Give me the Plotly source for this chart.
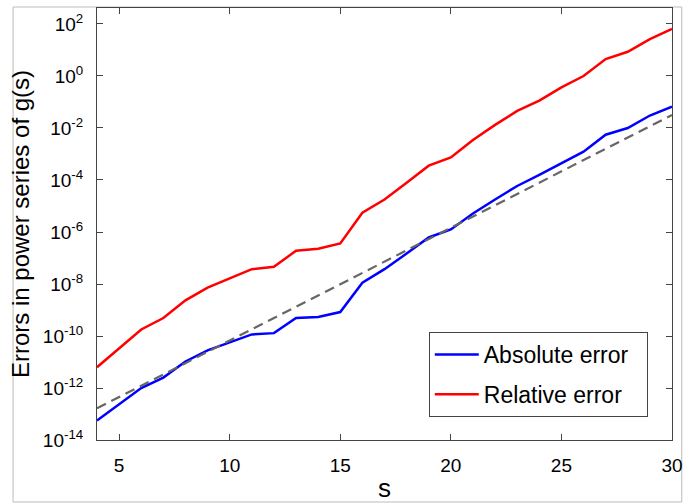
import plotly.graph_objects as go

s_vals = list(range(4, 31))
abs_err = [10**v for v in [-13.25, -12.64, -12.0, -11.6, -10.98, -10.55, -10.24, -9.94, -9.89,
                           -9.31, -9.27, -9.08, -7.95, -7.43, -6.83, -6.21, -5.9, -5.29, -4.75,
                           -4.23, -3.80, -3.34, -2.91, -2.26, -2.0, -1.52, -1.18]]
rel_err = [10**v for v in [-11.2, -10.47, -9.75, -9.31, -8.63, -8.14, -7.79, -7.43, -7.34,
                           -6.72, -6.64, -6.44, -5.26, -4.75, -4.11, -3.45, -3.13, -2.46, -1.88,
                           -1.34, -0.95, -0.44, 0.0, 0.65, 0.93, 1.42, 1.81]]
ref_s = [4, 30]
ref_vals = [10**-12.78, 10**-1.5]

ytick_vals = [1e-14, 1e-12, 1e-10, 1e-8, 1e-6, 1e-4, 1e-2, 1e0, 1e2]
ytick_text = ["10<sup>-14</sup>", "10<sup>-12</sup>", "10<sup>-10</sup>", "10<sup>-8</sup>",
              "10<sup>-6</sup>", "10<sup>-4</sup>", "10<sup>-2</sup>", "10<sup>0</sup>", "10<sup>2</sup>"]
xtick_vals = [5, 10, 15, 20, 25, 30]

FONT = "Liberation Sans, Arial, Helvetica, sans-serif"

fig = go.Figure()
fig.add_trace(go.Scatter(x=s_vals, y=abs_err, mode="lines", name="Absolute error&nbsp;&nbsp;",
                         line=dict(color="#0000FF", width=2.5), legendgroup="a"))
fig.add_trace(go.Scatter(x=s_vals, y=rel_err, mode="lines", name="Relative error",
                         line=dict(color="#FF0000", width=2.5), legendgroup="b"))
fig.add_trace(go.Scatter(x=ref_s, y=ref_vals, mode="lines", showlegend=False,
                         line=dict(color="#666666", width=2.2, dash="10px,6px")))

axis_common = dict(showgrid=False, zeroline=False, showline=True, linecolor="#444444",
                   linewidth=1, mirror="ticks", ticks="inside", ticklen=6, tickcolor="#444444",
                   automargin=False,
                   tickfont=dict(family=FONT, size=19, color="black"))

fig.update_xaxes(range=[4, 30], tickvals=xtick_vals, ticklabelstandoff=8,
                 title=dict(text="s", font=dict(family=FONT, size=26, color="black"), standoff=16),
                 **axis_common)
fig.update_yaxes(type="log", range=[-14, 2.615], tickvals=ytick_vals, ticktext=ytick_text,
                 ticklabelstandoff=9,
                 title=dict(text="Errors in power series of g(s)",
                            font=dict(family=FONT, size=24, color="black"), standoff=6),
                 **axis_common)

fig.update_layout(
    width=683, height=503,
    margin=dict(l=97, r=11, t=8, b=63),
    paper_bgcolor="white", plot_bgcolor="white",
    font=dict(family=FONT, color="black"),
    legend=dict(x=0.577, y=0.25, xanchor="left", yanchor="top",
                bgcolor="white", bordercolor="#444444", borderwidth=1,
                font=dict(family=FONT, size=23, color="black"),
                itemwidth=44,
                tracegroupgap=7, traceorder="grouped"),
    shapes=[dict(type="rect", xref="paper", yref="paper", x0=-0.146, x1=1.017,
                 y0=-0.1435, y1=1.0023, line=dict(color="#BBBBBB", width=1),
                 fillcolor="rgba(0,0,0,0)", layer="below")],
)

fig.write_html("out.html", config={"displayModeBar": False},
               post_script="document.body.style.margin='0';document.body.style.overflow='hidden';")
